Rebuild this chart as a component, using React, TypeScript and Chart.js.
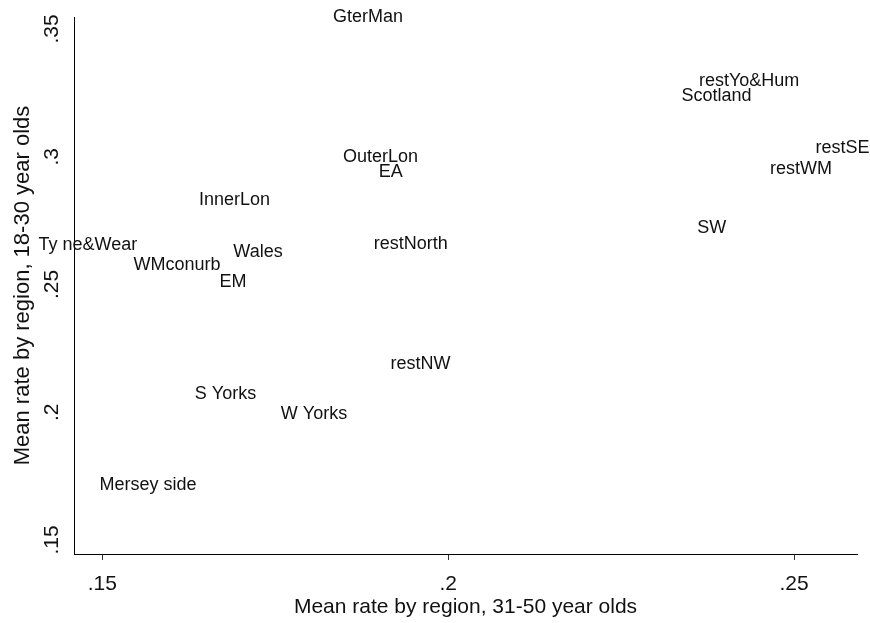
import React, { useEffect, useRef } from "react";
import { Chart, registerables } from "chart.js";

Chart.register(...registerables);

const regions = [
  "GterMan", "restYo&Hum", "Scotland", "restSE", "restWM", "OuterLon", "EA",
  "InnerLon", "SW", "Ty ne&Wear", "restNorth", "Wales", "WMconurb", "EM",
  "restNW", "S Yorks", "W Yorks", "Mersey side",
];
const rate31to50 = [
  0.1884, 0.2435, 0.2388, 0.2570, 0.2510, 0.1902, 0.1917,
  0.1691, 0.2381, 0.1479, 0.1946, 0.1725, 0.1608, 0.1689,
  0.1960, 0.1678, 0.1806, 0.1566,
];
const rate18to30 = [
  0.3547, 0.3295, 0.3238, 0.3036, 0.2952, 0.2999, 0.2940,
  0.2831, 0.2721, 0.2655, 0.2659, 0.2627, 0.2576, 0.2510,
  0.2187, 0.2071, 0.1991, 0.1715,
];
const xTickValues = [0.15, 0.2, 0.25];
const xTickLabels = [".15", ".2", ".25"];
const yTickValues = [0.15, 0.2, 0.25, 0.3, 0.35];
const yTickLabels = [".15", ".2", ".25", ".3", ".35"];

const FONT = "'Liberation Sans', Arial, Helvetica, sans-serif";

export default function App() {
  const ref = useRef<HTMLCanvasElement | null>(null);

  useEffect(() => {
    if (!ref.current) return;
    const labelPlugin = {
      id: "pointLabels",
      afterDatasetsDraw(chart: any) {
        const ctx = chart.ctx;
        const meta = chart.getDatasetMeta(0);
        ctx.save();
        ctx.font = `18px ${FONT}`;
        ctx.fillStyle = "#111";
        ctx.textAlign = "center";
        ctx.textBaseline = "middle";
        meta.data.forEach((pt: any, i: number) => {
          ctx.fillText(regions[i], pt.x, pt.y);
        });
        ctx.restore();
      },
      afterDraw(chart: any) {
        const ctx = chart.ctx;
        const ys = chart.scales.y;
        ctx.save();
        ctx.font = `21px ${FONT}`;
        ctx.fillStyle = "#111";
        ctx.textAlign = "center";
        ctx.textBaseline = "alphabetic";
        ys.ticks.forEach((t: any, i: number) => {
          const py = ys.getPixelForValue(t.value);
          ctx.save();
          ctx.translate(ys.right - 16, py);
          ctx.rotate(-Math.PI / 2);
          ctx.fillText(yTickLabels[i], 0, 0);
          ctx.restore();
        });
        ctx.restore();
      },
    };

    const chart = new Chart(ref.current, {
      type: "scatter",
      data: {
        datasets: [
          {
            data: regions.map((_, i) => ({ x: rate31to50[i], y: rate18to30[i] })),
            pointRadius: 0,
            pointHoverRadius: 0,
            showLine: false,
          },
        ],
      },
      options: {
        responsive: false,
        animation: false,
        events: [],
        layout: { padding: { top: 17, right: 13, left: 0, bottom: 0 } },
        plugins: { legend: { display: false }, tooltip: { enabled: false } },
        scales: {
          x: {
            type: "linear",
            min: 0.1459,
            max: 0.2591,
            afterBuildTicks: (s: any) => {
              s.ticks = xTickValues.map((v) => ({ value: v }));
            },
            afterFit: (s: any) => {
              s.height = 69;
            },
            grid: {
              display: true,
              drawOnChartArea: false,
              drawTicks: true,
              tickLength: 6,
              color: "#333",
              lineWidth: 1,
            },
            border: { display: true, color: "#000", width: 1 },
            ticks: {
              color: "#111",
              font: { family: FONT, size: 21 },
              padding: 12,
              maxRotation: 0,
              minRotation: 0,
              callback: (v: any, i: number) => xTickLabels[i],
            },
            title: {
              display: true,
              text: "Mean rate by region, 31-50 year olds",
              color: "#111",
              font: { family: FONT, size: 21 },
              padding: { top: 0, bottom: 3 },
            },
          },
          y: {
            type: "linear",
            min: 0.1445,
            max: 0.3547,
            afterBuildTicks: (s: any) => {
              s.ticks = yTickValues.map((v) => ({ value: v }));
            },
            afterFit: (s: any) => {
              s.width = 74;
            },
            grid: { display: false },
            border: { display: true, color: "#000", width: 1 },
            ticks: { display: false },
            title: {
              display: true,
              text: "Mean rate by region, 18-30 year olds",
              color: "#111",
              font: { family: FONT, size: 22 },
              padding: { top: 10, bottom: 0 },
            },
          },
        },
      },
      plugins: [labelPlugin],
    });
    return () => chart.destroy();
  }, []);

  return (
    <div style={{ position: "absolute", left: 0, top: 0, width: 870, height: 623, background: "#fff" }}>
      <canvas ref={ref} width={870} height={623} style={{ display: "block" }} />
    </div>
  );
}
